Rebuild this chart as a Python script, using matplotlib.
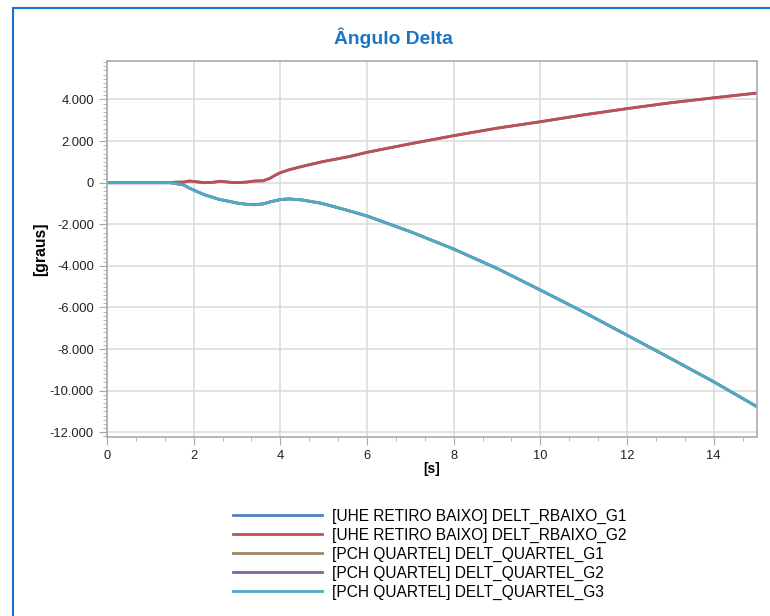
import numpy as np
import matplotlib.pyplot as plt
from matplotlib.ticker import MultipleLocator, FuncFormatter
from matplotlib.lines import Line2D

plt.rcParams['font.family'] = ['Liberation Sans', 'DejaVu Sans']

# Zeit [s]
t = [0, 0.5, 1.0, 1.45, 1.55, 1.77, 1.9, 2.08, 2.25, 2.46, 2.6, 2.85, 3.0, 3.23,
     3.4, 3.6, 3.75, 3.9, 4.0, 4.2, 4.5, 4.95, 5.6, 6, 7, 8, 9, 10, 11, 12, 13, 14, 15]

# RBAIXO G2 (G1 liegt darunter)
rbaixo = [0, 0, 0, 0, 20, 30, 80, 40, 0, 20, 70, 20, 0, 30,
          80, 90, 200, 380, 480, 620, 780, 1000, 1260, 1460, 1870, 2260, 2620, 2930, 3260,
          3560, 3840, 4080, 4310]

# QUARTEL G3 (G1, G2 liegen darunter)
quartel = [0, 0, 0, 0, -30, -110, -260, -430, -580, -720, -810, -910, -980, -1040,
           -1060, -1020, -930, -860, -810, -780, -830, -990, -1360, -1600, -2355, -3190,
           -4120, -5160, -6220, -7330, -8440, -9570, -10770]

series = {
    "[UHE RETIRO BAIXO] DELT_RBAIXO_G1": (rbaixo, "#4f81bd"),
    "[UHE RETIRO BAIXO] DELT_RBAIXO_G2": (rbaixo, "#c0504d"),
    "[PCH QUARTEL] DELT_QUARTEL_G1": (quartel, "#9f8462"),
    "[PCH QUARTEL] DELT_QUARTEL_G2": (quartel, "#8064a2"),
    "[PCH QUARTEL] DELT_QUARTEL_G3": (quartel, "#4bacc6"),
}

fig = plt.figure(figsize=(7.7, 6.16), dpi=100)
ax = fig.add_axes([107/770, 1 - 437/616, 650/770, 376/616])

for name, (vals, col) in series.items():
    ax.plot(t, vals, color=col, lw=2.0, label=name)

ax.set_xlim(0, 15)
ax.set_ylim(-12226, 5850)

ax.xaxis.set_major_locator(MultipleLocator(2))
ax.xaxis.set_minor_locator(MultipleLocator(2/3))
ax.yaxis.set_major_locator(MultipleLocator(2000))
ax.yaxis.set_minor_locator(MultipleLocator(200))
ax.yaxis.set_major_formatter(FuncFormatter(lambda v, p: f"{v:,.0f}".replace(",", ".")))

ax.grid(True, which='major', color='#dddddd', lw=1.2)
ax.set_axisbelow(True)
for s in ax.spines.values():
    s.set_color('#aaaaaa')
    s.set_linewidth(1.2)
ax.tick_params(which='major', length=6, color='#aaaaaa', labelsize=9.3, labelcolor='#222222')
ax.tick_params(which='minor', length=3, color='#aaaaaa')

ax.set_xlabel('[s]', fontweight='bold', fontsize=10, labelpad=0)
ax.set_ylabel('[graus]', fontweight='bold', fontsize=11.3, labelpad=1)
fig.text(393/770, 1 - 38/616, 'Ângulo Delta', ha='center', va='center',
         fontsize=13.9, fontweight='bold', color='#1b75c7')

# Rahmen links/oben
fig.add_artist(Line2D([13/770, 13/770], [0, 1 - 8/616], transform=fig.transFigure,
                      color='#1a73d0', lw=1.5))
fig.add_artist(Line2D([13/770, 1], [1 - 8/616, 1 - 8/616], transform=fig.transFigure,
                      color='#1a73d0', lw=1.5))

fig.legend(loc='center', bbox_to_anchor=(430/770, 1 - 554/616), frameon=False,
           fontsize=11.2, handlelength=5.7, handletextpad=0.65, labelspacing=0.25)

plt.savefig('out.png', dpi=100)
